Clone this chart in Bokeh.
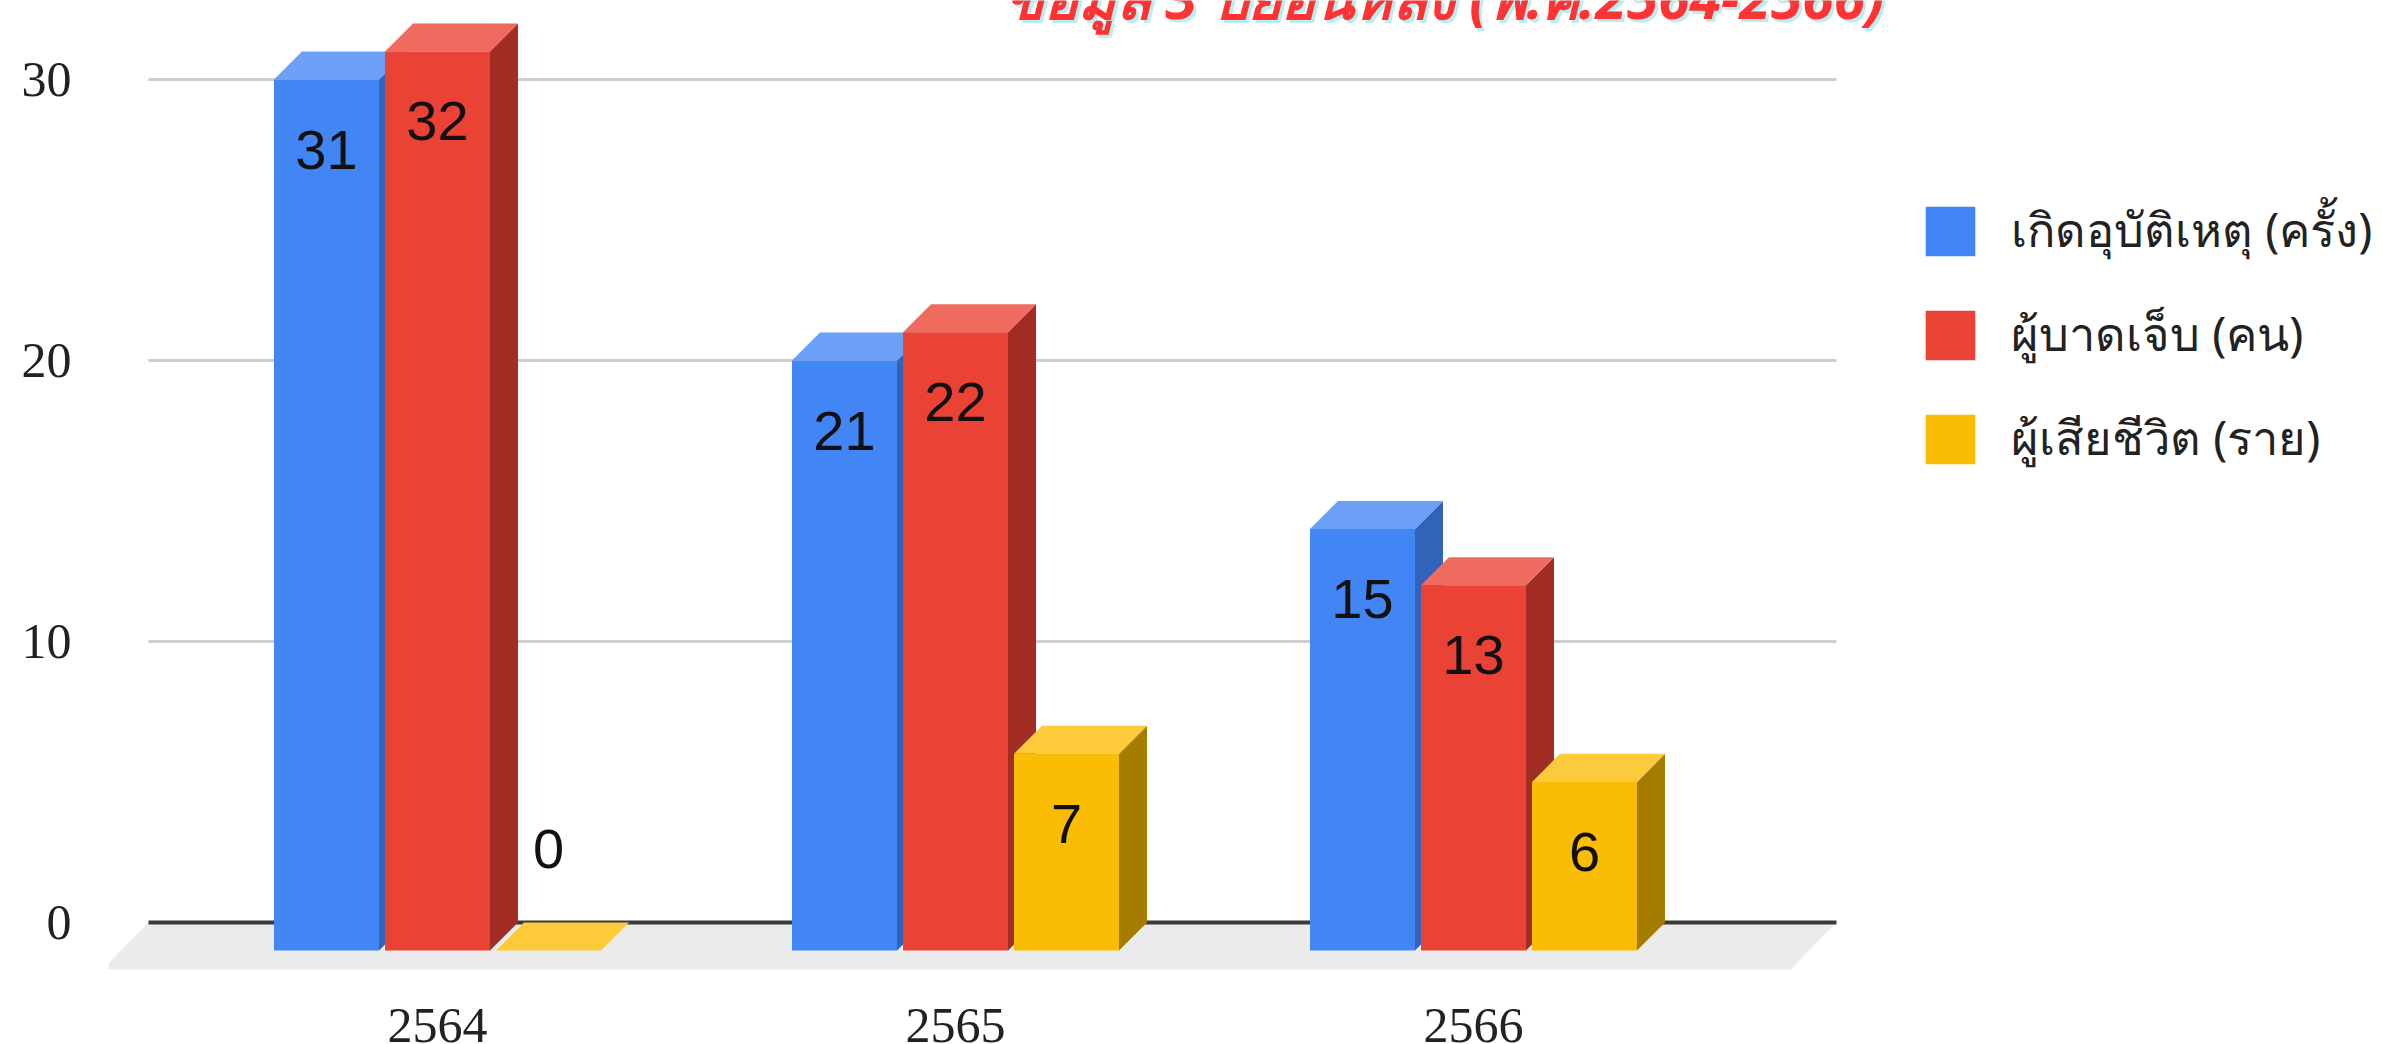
from bokeh.plotting import figure
from bokeh.models import ColumnDataSource, FixedTicker, Legend, LegendItem, Range1d
from bokeh.core.properties import value
from bokeh.embed import file_html
from bokeh.resources import INLINE

# ---------------- data ----------------
years = ["2564", "2565", "2566"]
series_names = ["เกิดอุบัติเหตุ (ครั้ง)", "ผู้บาดเจ็บ (คน)", "ผู้เสียชีวิต (ราย)"]
accidents = [31, 21, 15]
injured = [32, 22, 13]
deaths = [0, 7, 6]
y_ticks = [0, 10, 20, 30]
title_text = "ข้อมูล 3 ปีย้อนหลัง (พ.ศ.2564-2566)"

series_values = [accidents, injured, deaths]
front_colors = ["#4285f4", "#ea4335", "#fbbc04"]
top_colors = ["#6c9ff6", "#ef6b60", "#fcca3a"]
side_colors = ["#3163b8", "#a12d24", "#a67c00"]

# ---------------- layout constants ----------------
W, H = 2382, 1044
MB_LEFT = 108
PX_X = 518.0          # pixels per category step
PX_Y = 28.067         # pixels per value unit
G0 = 437.0            # screen x of first category centre
Y0 = 921.0            # screen y of value 0 (back wall)
FRAME_BOTTOM = 997.0  # expected screen y of frame bottom

bar_w = 105.0 / PX_X
bar_step = 111.0 / PX_X
gap = bar_step - bar_w
dx = 28.0 / PX_X      # 3D depth offset (x)
dy = 28.0 / PX_Y      # 3D depth offset (y)

x_start = (MB_LEFT - G0) / PX_X
x_end = (W - G0) / PX_X
y_end = Y0 / PX_Y
y_start = (Y0 - FRAME_BOTTOM) / PX_Y

p = figure(width=W, height=H, output_backend="svg", toolbar_location=None,
           x_range=Range1d(x_start, x_end), y_range=Range1d(y_start, y_end),
           min_border_left=MB_LEFT, min_border_right=0, min_border_top=0,
           min_border_bottom=0)
p.outline_line_color = None
p.xgrid.visible = False
p.ygrid.visible = False
p.background_fill_color = "white"
p.border_fill_color = "white"

# floor (grey parallelogram) and back grid lines
floor_l = (148 - G0) / PX_X
floor_r = (1836 - G0) / PX_X
floor_dx = -46.0 / PX_X
floor_dy = -47.0 / PX_Y
p.patch([floor_l, floor_r, floor_r + floor_dx, floor_l + floor_dx],
        [0, 0, floor_dy, floor_dy], fill_color="#ebebeb", line_color=None)

grid_vals = [t for t in y_ticks if t != 0]
p.segment(x0=[floor_l] * len(grid_vals), x1=[floor_r] * len(grid_vals),
          y0=grid_vals, y1=grid_vals, line_color="#cfcfcf", line_width=3)
p.segment(x0=[floor_l], x1=[floor_r], y0=[0], y1=[0], line_color="#3a3a3a", line_width=4)

# 3D bars
n_series = len(series_values)
legend_items = []
for j, vals in enumerate(series_values):
    xs, ys, cols = [], [], []
    front_idx = None
    for i, v in enumerate(vals):
        left = i + (j - n_series / 2.0) * bar_step + gap / 2.0
        right = left + bar_w
        # side
        xs.append([right, right, right + dx, right + dx])
        ys.append([-dy, v - dy, v, 0])
        cols.append(side_colors[j])
        # top
        xs.append([left, right, right + dx, left + dx])
        ys.append([v - dy, v - dy, v, v])
        cols.append(top_colors[j])
        # front
        if front_idx is None:
            front_idx = len(xs)
        xs.append([left, right, right, left])
        ys.append([-dy, -dy, v - dy, v - dy])
        cols.append(front_colors[j])
    src = ColumnDataSource(dict(xs=xs, ys=ys, c=cols))
    r = p.patches("xs", "ys", source=src, fill_color="c", line_color=None)
    legend_items.append(LegendItem(label=series_names[j], renderers=[r], index=front_idx))

# value labels
lx, ly, lt = [], [], []
for j, vals in enumerate(series_values):
    for i, v in enumerate(vals):
        left = i + (j - n_series / 2.0) * bar_step + gap / 2.0
        lx.append(left + bar_w / 2.0)
        if v >= 4:
            ly.append(v - dy - 70.0 / PX_Y)
        else:
            ly.append(v - dy + 101.0 / PX_Y)
        lt.append(str(v))
p.text(x=lx, y=ly, text=lt, text_align="center", text_baseline="middle",
       text_font=value("Liberation Sans"), text_font_size="56px", text_color="#111111")

# title (partly cut at the top, with cyan shadow)
tx = (1004 - G0) / PX_X
ty = (Y0 - 17) / PX_Y
p.text(x=[tx], y=[ty], text=[title_text], x_offset=3, y_offset=-18,
       text_align="left", text_baseline="alphabetic",
       text_font=value("Noto Sans"), text_font_style="bold italic",
       text_font_size="57px", text_color="#b8eef2")
p.text(x=[tx], y=[ty], text=[title_text], x_offset=0, y_offset=-21,
       text_align="left", text_baseline="alphabetic",
       text_font=value("Noto Sans"), text_font_style="bold italic",
       text_font_size="57px", text_color="#ff3333")

# axes
p.yaxis.ticker = FixedTicker(ticks=y_ticks)
p.yaxis.axis_line_color = None
p.yaxis.major_tick_line_color = None
p.yaxis.minor_tick_line_color = None
p.yaxis.major_label_text_font = "Liberation Serif"
p.yaxis.major_label_text_font_size = "50px"
p.yaxis.major_label_text_color = "#222222"
p.yaxis.major_label_standoff = 31

p.xaxis.ticker = FixedTicker(ticks=list(range(len(years))))
p.xaxis.major_label_overrides = {i: y for i, y in enumerate(years)}
p.xaxis.axis_line_color = None
p.xaxis.major_tick_line_color = None
p.xaxis.minor_tick_line_color = None
p.xaxis.major_label_text_font = "Liberation Serif"
p.xaxis.major_label_text_font_size = "50px"
p.xaxis.major_label_text_color = "#222222"
p.xaxis.major_label_standoff = 4

# legend
legend = Legend(items=legend_items, location=(1919 - MB_LEFT, int(FRAME_BOTTOM - 475)),
                glyph_width=62, glyph_height=62, label_height=50, spacing=29,
                label_standoff=30, padding=0, margin=0,
                label_text_font="Noto Sans", label_text_font_size="47px",
                label_text_color="#222222", border_line_color=None,
                background_fill_alpha=0)
p.add_layout(legend)

open("out.html", "w").write(file_html(p, INLINE))
